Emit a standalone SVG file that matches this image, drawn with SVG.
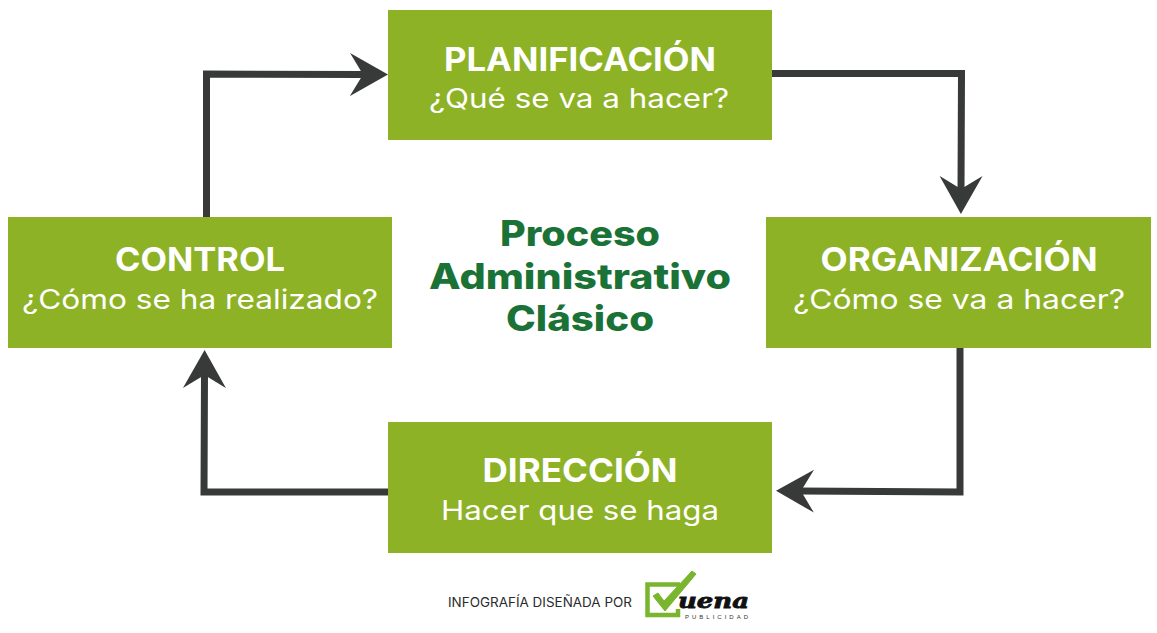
<svg xmlns="http://www.w3.org/2000/svg" width="1157" height="633" viewBox="0 0 1157 633">
<style>
.box{fill:#8db225}
.t{font-family:"Inter","Noto Sans","Liberation Sans",sans-serif;text-anchor:middle}
.h{font-size:33px;font-weight:700;fill:#fff}
.s{font-size:27px;font-weight:400;fill:#fff}
.c{font-size:35px;font-weight:800;fill:#1b7237}
.l{fill:none;stroke:#383a39;stroke-width:7;stroke-linejoin:miter;marker-end:url(#a)}
</style>
<defs>
<marker id="a" markerUnits="userSpaceOnUse" markerWidth="44" markerHeight="48" refX="14" refY="24" orient="auto" viewBox="0 0 44 48">
<path d="M0 2.500L38 24L0 45.500L13 24Z" fill="#383a39"/>
</marker>
</defs>
<rect width="1157" height="633" fill="#fff"/>
<g id="connectors">
<polyline class="l" points="206.500,217 206.500,74 364,74.500"/>
<polyline class="l" points="772,73.500 961.500,73.500 961,190"/>
<polyline class="l" points="960,348 960,492 800,491"/>
<polyline class="l" points="388,492 204,492 204.500,374"/>
</g>
<g id="planificacion"><rect class="box" x="388" y="10" width="384" height="130"/>
<text class="t h" x="580" y="71" textLength="272" lengthAdjust="spacingAndGlyphs">PLANIFICACIÓN</text>
<text class="t s" x="579" y="108" textLength="300" lengthAdjust="spacingAndGlyphs">¿Qué se va a hacer?</text></g>
<g id="control"><rect class="box" x="8" y="217" width="384" height="131"/>
<text class="t h" x="200" y="271" textLength="170" lengthAdjust="spacingAndGlyphs">CONTROL</text>
<text class="t s" x="200" y="309" textLength="356" lengthAdjust="spacingAndGlyphs">¿Cómo se ha realizado?</text></g>
<g id="organizacion"><rect class="box" x="766" y="217" width="385" height="131"/>
<text class="t h" x="959" y="271" textLength="277" lengthAdjust="spacingAndGlyphs">ORGANIZACIÓN</text>
<text class="t s" x="959" y="309" textLength="332" lengthAdjust="spacingAndGlyphs">¿Cómo se va a hacer?</text></g>
<g id="direccion"><rect class="box" x="388" y="422" width="384" height="131"/>
<text class="t h" x="580" y="482" textLength="195" lengthAdjust="spacingAndGlyphs">DIRECCIÓN</text>
<text class="t s" x="580" y="520" textLength="278" lengthAdjust="spacingAndGlyphs">Hacer que se haga</text></g>
<g id="titulo">
<text class="t c" x="580" y="246" textLength="160" lengthAdjust="spacingAndGlyphs">Proceso</text>
<text class="t c" x="580" y="289" textLength="302" lengthAdjust="spacingAndGlyphs">Administrativo</text>
<text class="t c" x="580" y="331" textLength="148" lengthAdjust="spacingAndGlyphs">Clásico</text>
</g>
<g id="credito">
<text class="t" x="540" y="607" font-size="13" fill="#2b2b2b" textLength="184" lengthAdjust="spacingAndGlyphs">INFOGRAFÍA DISEÑADA POR</text>
<path d="M680 584.500H647.500V615H678V609" fill="none" stroke="#7ab52e" stroke-width="4.500"/>
<path d="M653 596L658 593L664 601L692 571L696 574L665 611Z" fill="#7ab52e" stroke="#7ab52e" stroke-width="1" stroke-linejoin="round"/>
<text x="678" y="608" font-family="'DejaVu Serif',serif" font-size="20" font-weight="700" font-style="italic" fill="#111" stroke="#111" stroke-width=".8" textLength="71" lengthAdjust="spacingAndGlyphs">uena</text>
<text x="685" y="619" font-family="'Liberation Sans',sans-serif" font-size="6" fill="#333" textLength="63">PUBLICIDAD</text>
</g>
</svg>
